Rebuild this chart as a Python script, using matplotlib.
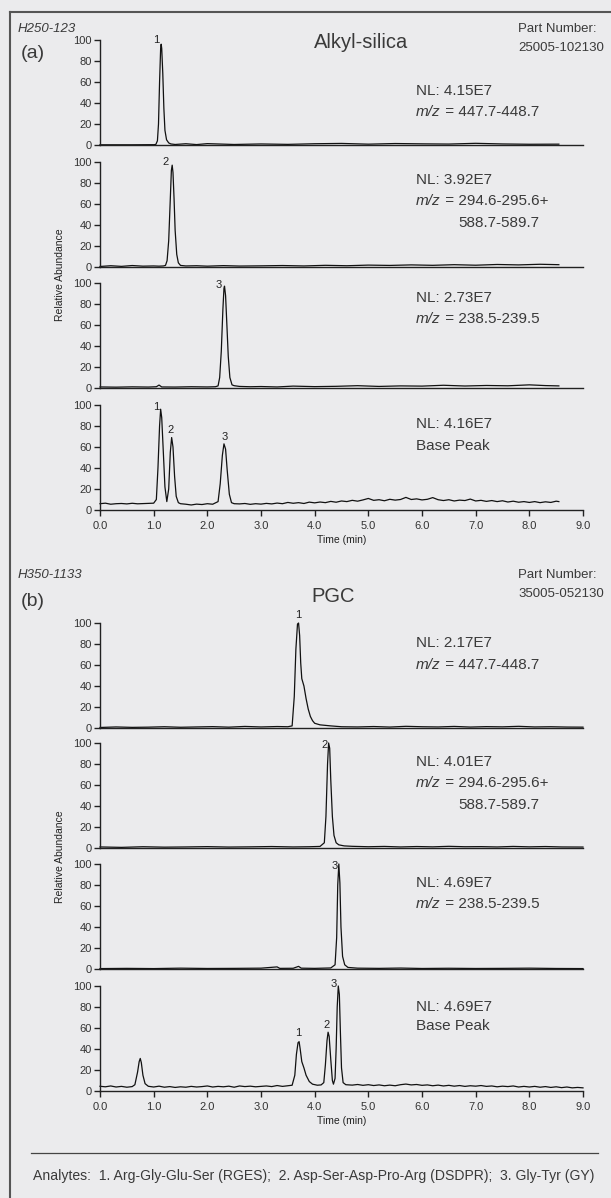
import numpy as np
import matplotlib
matplotlib.use("Agg")
import matplotlib.pyplot as plt
from matplotlib.lines import Line2D

plt.rcParams['font.family'] = ['Liberation Sans', 'DejaVu Sans']

W, H = 611, 1198
BG = '#ebebed'
TXT = '#3a3a3a'

# ---- data ----
a1_time = [0, 0.3, 0.6, 0.9, 1.0, 1.04, 1.07, 1.09, 1.11, 1.13, 1.14, 1.15, 1.17, 1.19, 1.21, 1.24, 1.28,
           1.32, 1.4, 1.6, 1.8, 2.0, 2.5, 3.0, 3.5, 4.0, 4.5, 5.0, 5.5, 6.0, 6.5, 7.0, 7.5, 8.0, 8.55]
a1_abund = [0.2, 0.2, 0.2, 0.3, 0.3, 0.5, 4, 20, 60, 92, 96, 92, 68, 35, 14, 5, 2,
            1, 0.5, 1.2, 0.4, 1.3, 0.5, 1.0, 0.6, 1.2, 1.5, 0.8, 1.4, 1.1, 0.9, 1.6, 1.0, 0.7, 0.8]

a2_time = [0, 0.2, 0.4, 0.6, 0.8, 1.0, 1.1, 1.18, 1.22, 1.25, 1.28, 1.31, 1.33, 1.345, 1.36, 1.38, 1.40,
           1.43, 1.46, 1.5, 1.6, 1.8, 2.0, 2.3, 2.6, 3.0, 3.4, 3.8, 4.2, 4.6, 5.0, 5.4, 5.8, 6.2, 6.6,
           7.0, 7.4, 7.8, 8.2, 8.55]
a2_abund = [0.5, 1.2, 0.6, 1.4, 0.8, 1.0, 0.8, 1.0, 1.5, 6, 25, 65, 92, 97, 90, 65, 35,
            12, 4, 1.5, 1.0, 1.2, 0.8, 1.3, 0.9, 1.1, 1.4, 1.0, 1.6, 1.2, 1.8, 1.5, 2.0, 1.6, 2.2,
            1.7, 2.4, 2.0, 2.6, 2.2]

a3_time = [0, 0.3, 0.6, 0.9, 1.05, 1.1, 1.15, 1.4, 1.7, 2.0, 2.15, 2.20, 2.23, 2.26, 2.29, 2.31, 2.32,
           2.34, 2.36, 2.39, 2.42, 2.46, 2.5, 2.6, 2.8, 3.0, 3.3, 3.6, 4.0, 4.4, 4.8, 5.2, 5.6, 6.0,
           6.4, 6.8, 7.2, 7.6, 8.0, 8.3, 8.55]
a3_abund = [1.0, 0.8, 1.1, 0.9, 1.2, 2.8, 1.0, 0.9, 1.2, 1.0, 1.2, 2, 10, 35, 75, 95, 97,
            88, 65, 30, 10, 3, 2.2, 1.5, 1.2, 1.4, 1.0, 1.8, 1.3, 1.6, 2.2, 1.5, 2.0, 1.8,
            2.6, 1.9, 2.4, 2.1, 3.0, 2.3, 2.0]

a4_time = [0.0, 0.1, 0.2, 0.3, 0.4, 0.5, 0.6, 0.7, 0.8, 0.9, 1.0, 1.05, 1.08, 1.11, 1.13, 1.15, 1.18,
           1.21, 1.245, 1.28, 1.31, 1.335, 1.36, 1.39, 1.42, 1.46, 1.5, 1.6, 1.7, 1.8, 1.9, 2.0, 2.1,
           2.20, 2.24, 2.28, 2.31, 2.34, 2.37, 2.41, 2.45, 2.5, 2.6, 2.7, 2.8, 2.9, 3.0, 3.1, 3.2,
           3.3, 3.4, 3.5, 3.6, 3.7, 3.8, 3.9, 4.0, 4.1, 4.2, 4.3, 4.4, 4.5, 4.6, 4.7, 4.8, 4.9, 5.0, 5.1,
           5.2, 5.3, 5.4, 5.5, 5.6, 5.7, 5.8, 5.9, 6.0, 6.1, 6.2, 6.3, 6.4, 6.5, 6.6, 6.7, 6.8, 6.9, 7.0,
           7.1, 7.2, 7.3, 7.4, 7.5, 7.6, 7.7, 7.8, 7.9, 8.0, 8.1, 8.2, 8.3, 8.4, 8.5, 8.55]
a4_abund = [6, 6.5, 5.5, 6, 6.2, 5.8, 6.4, 5.9, 6.1, 6.3, 6.5, 10, 40, 80, 96, 88, 55,
            22, 8, 20, 55, 69, 60, 32, 13, 7, 6, 5.5, 4.8, 5.6, 5.2, 6, 5.5,
            8, 25, 52, 63, 58, 38, 15, 7, 6, 5.8, 6.2, 5.4, 6.0, 5.6, 6.3, 5.8,
            6.6, 6.0, 7.2, 6.4, 7.0, 6.2, 7.5, 6.8, 7.6, 7.0, 8.2, 7.4, 8.6, 8.0, 9.2, 8.4, 9.6, 11, 9.2,
            9.8, 8.8, 10.2, 9.4, 10.0, 12, 10, 10.6, 9.6, 10.2, 11.8, 9.8, 9.0, 9.8, 8.6, 9.4, 9.0, 10.4, 8.6,
            9.2, 8.2, 9.0, 8.0, 8.8, 7.6, 8.4, 7.4, 8.0, 7.2, 8.0, 7.0, 7.8, 7.2, 8.4, 8.0]

b1_time = [0, 0.3, 0.6, 0.9, 1.2, 1.5, 1.8, 2.1, 2.4, 2.7, 3.0, 3.3, 3.5, 3.58, 3.62, 3.65, 3.68, 3.70,
           3.72, 3.74, 3.76, 3.80, 3.84, 3.88, 3.92, 3.96, 4.0, 4.1, 4.2, 4.3, 4.5, 4.8, 5.1, 5.4, 5.7,
           6.0, 6.3, 6.6, 6.9, 7.2, 7.5, 7.8, 8.1, 8.4, 8.7, 9.0]
b1_abund = [0.5, 1.0, 0.6, 0.8, 1.2, 0.7, 1.0, 1.3, 0.8, 1.5, 1.0, 1.4, 1.2, 2, 30, 75, 99, 100,
            88, 62, 47, 40, 28, 18, 11, 7, 4.5, 3, 2.5, 2.0, 1.2, 1.0, 1.4, 0.9, 1.6,
            1.2, 1.0, 1.5, 0.9, 1.3, 1.1, 1.6, 1.0, 1.2, 0.9, 0.8]

b2_time = [0, 0.4, 0.8, 1.2, 1.6, 2.0, 2.4, 2.8, 3.2, 3.6, 3.9, 4.1, 4.18, 4.21, 4.24, 4.26, 4.28, 4.30,
           4.33, 4.36, 4.40, 4.45, 4.55, 4.7, 5.0, 5.3, 5.6, 5.9, 6.2, 6.5, 6.8, 7.1, 7.4, 7.7, 8.0, 8.3,
           8.6, 9.0]
b2_abund = [1.0, 0.6, 1.2, 0.8, 1.0, 1.3, 0.9, 1.1, 1.4, 1.0, 1.2, 1.5, 5, 30, 80, 100, 95, 65,
            30, 12, 5, 3, 2.0, 1.6, 1.2, 1.5, 1.0, 1.4, 1.1, 1.6, 1.2, 1.3, 1.0, 1.5, 1.1, 1.4,
            1.0, 0.9]

b3_time = [0, 0.5, 1.0, 1.5, 2.0, 2.5, 3.0, 3.3, 3.35, 3.6, 3.7, 3.75, 4.0, 4.3, 4.38, 4.41, 4.43, 4.45,
           4.47, 4.49, 4.52, 4.56, 4.62, 4.8, 5.2, 5.6, 6.0, 6.5, 7.0, 7.5, 8.0, 8.5, 9.0]
b3_abund = [0.4, 0.6, 0.4, 0.8, 0.5, 0.6, 0.8, 2, 0.6, 0.7, 2.5, 0.8, 0.6, 1, 4, 30, 80, 100,
            82, 40, 12, 4, 1.5, 0.8, 0.6, 0.9, 0.5, 0.7, 0.5, 0.6, 0.8, 0.5, 0.4]

b4_time = [0.0, 0.1, 0.2, 0.3, 0.4, 0.5, 0.6, 0.65, 0.70, 0.73, 0.75, 0.77, 0.80, 0.84, 0.9, 1.0, 1.1,
           1.2, 1.3, 1.4, 1.5, 1.6, 1.7, 1.8, 1.9, 2.0, 2.1, 2.2, 2.3, 2.4, 2.5, 2.6, 2.7, 2.8, 2.9, 3.0,
           3.1, 3.2, 3.3, 3.4, 3.5, 3.58, 3.63, 3.66, 3.69, 3.71, 3.73, 3.76, 3.80, 3.84, 3.90, 3.96, 4.05,
           4.12, 4.17, 4.20, 4.23, 4.25, 4.27, 4.30, 4.33, 4.35, 4.38, 4.40, 4.42, 4.44, 4.46, 4.48, 4.50,
           4.53, 4.58, 4.7, 4.8, 4.9, 5.0, 5.1, 5.2, 5.3, 5.4, 5.5, 5.6, 5.7, 5.8, 5.9, 6.0, 6.1, 6.2,
           6.3, 6.4, 6.5, 6.6, 6.7, 6.8, 6.9, 7.0, 7.1, 7.2, 7.3, 7.4, 7.5, 7.6, 7.7, 7.8, 7.9, 8.0, 8.1,
           8.2, 8.3, 8.4, 8.5, 8.6, 8.7, 8.8, 8.9, 9.0]
b4_abund = [4.5, 4.0, 4.8, 3.8, 4.4, 3.6, 4.2, 6, 18, 28, 31, 27, 15, 7, 4.5, 3.8, 4.6,
            3.6, 4.2, 3.4, 4.0, 3.6, 4.4, 3.8, 4.2, 4.8, 3.8, 4.4, 4.0, 4.6, 3.6, 4.8, 4.2, 4.6, 4.0, 4.4,
            4.8, 4.2, 5.2, 4.4, 5.0, 5.5, 15, 35, 46, 47, 40, 28, 22, 15, 9, 6.5, 5.5,
            5.8, 8, 25, 48, 56, 52, 30, 10, 6.5, 12, 40, 80, 100, 92, 55, 22,
            8, 6, 5.6, 6.2, 5.4, 6.0, 5.2, 5.8, 5.0, 5.6, 5.0, 6.0, 6.6, 5.8, 6.2, 5.4, 5.8, 5.0,
            5.6, 4.8, 5.4, 4.6, 5.2, 4.4, 5.0, 4.6, 5.2, 4.4, 4.8, 4.0, 4.6, 4.2, 4.8, 3.8, 4.4, 3.8, 4.4,
            3.6, 4.2, 3.4, 4.0, 3.2, 3.8, 3.0, 3.4, 3.0]

traces_a = [(a1_time, a1_abund), (a2_time, a2_abund), (a3_time, a3_abund), (a4_time, a4_abund)]
traces_b = [(b1_time, b1_abund), (b2_time, b2_abund), (b3_time, b3_abund), (b4_time, b4_abund)]

nl_a = ['NL: 4.15E7', 'NL: 3.92E7', 'NL: 2.73E7', 'NL: 4.16E7']
nl_b = ['NL: 2.17E7', 'NL: 4.01E7', 'NL: 4.69E7', 'NL: 4.69E7']
mz_ranges = ['447.7-448.7', '294.6-295.6+', '238.5-239.5', None]
mz_extra = [None, '588.7-589.7', None, None]

# peak labels: (label, time, abundance)
peaks_a = [[('1', 1.04, 100)], [('2', 1.22, 100)], [('3', 2.21, 98)],
           [('1', 1.04, 98), ('2', 1.32, 76), ('3', 2.33, 70)]]
peaks_b = [[('1', 3.69, 108)], [('2', 4.18, 98)], [('3', 4.37, 98)],
           [('1', 3.69, 55), ('2', 4.22, 63), ('3', 4.36, 102)]]

x_ticks = np.arange(0, 10, 1)
x_labels = ['%.1f' % v for v in x_ticks]
y_ticks = [0, 20, 40, 60, 80, 100]

fig = plt.figure(figsize=(W / 100, H / 100), dpi=100, facecolor=BG)

FS = 11  # NL / m/z annotation size


def fx(px):
    return px / W


def fy(py):
    return 1 - py / H


def make_axes(top, bottom, bottom_axis):
    ax = fig.add_axes([fx(100), fy(bottom), 483 / W, (bottom - top) / H])
    ax.set_facecolor('none')
    for s in ['top', 'right']:
        ax.spines[s].set_visible(False)
    for s in ['left', 'bottom']:
        ax.spines[s].set_color('#222222')
        ax.spines[s].set_linewidth(1.0)
    ax.set_xlim(0, 9)
    ax.set_ylim(0, 100)
    ax.set_yticks(y_ticks)
    ax.tick_params(axis='y', direction='out', length=4, width=1, colors='#222222',
                   labelsize=8, labelcolor='#333333', pad=2)
    if bottom_axis:
        ax.set_xticks(x_ticks)
        ax.set_xticklabels(x_labels)
        ax.tick_params(axis='x', direction='out', length=4, width=1, colors='#222222',
                       labelsize=8, labelcolor='#333333', pad=4)
    else:
        ax.set_xticks([])
    return ax


def draw_panel(tops, traces, nls, peaks, nl_y):
    axes = []
    for i, (top, (t, v)) in enumerate(zip(tops, traces)):
        ax = make_axes(top, top + 105, i == 3)
        ax.plot(t, v, color='#111111', lw=0.9, clip_on=False)
        ny, my, ey = nl_y[i]
        ax.text(5.89, ny, nls[i], fontsize=FS, color=TXT, va='center', ha='left')
        if i == 3:
            ax.text(5.89, my, 'Base Peak', fontsize=FS, color=TXT, va='center', ha='left')
        else:
            m = ax.text(5.89, my, 'm/z', fontsize=FS, color=TXT, va='center', ha='left',
                        style='italic')
            ax.annotate(' = ' + mz_ranges[i], xy=(1, 0), xycoords=m, fontsize=FS,
                        color=TXT, va='bottom', ha='left')
            if mz_extra[i]:
                ax.text(6.67, ey, mz_extra[i], fontsize=FS, color=TXT, va='center', ha='left')
        for lab, px, py in peaks[i]:
            ax.text(px, py, lab, fontsize=8, color='#222222', ha='center', va='center')
        axes.append(ax)
    axes[3].set_xlabel('Time (min)', fontsize=7.5, color='#222222', labelpad=3)
    return axes


tops_a = [40, 162, 283, 405]
tops_b = [623, 743, 864, 986]
nl_y_a = [(51, 31, None), (83, 63, 42), (86, 66, None), (82, 61, None)]
nl_y_b = [(81, 60, None), (82, 62, 41), (82, 62, None), (80, 62, None)]

draw_panel(tops_a, traces_a, nl_a, peaks_a, nl_y_a)
draw_panel(tops_b, traces_b, nl_b, peaks_b, nl_y_b)

# y-axis titles
fig.text(fx(60), fy(275), 'Relative Abundance', rotation=90, fontsize=7.5, color='#222222',
         ha='center', va='center')
fig.text(fx(60), fy(857), 'Relative Abundance', rotation=90, fontsize=7.5, color='#222222',
         ha='center', va='center')

# headers
fig.text(fx(18), fy(29), 'H250-123', style='italic', fontsize=9.5, color=TXT, va='center')
fig.text(fx(21), fy(53), '(a)', fontsize=14, color=TXT, va='center')
fig.text(fx(361), fy(43), 'Alkyl-silica', fontsize=14.5, color=TXT, va='center', ha='center')
fig.text(fx(518), fy(29), 'Part Number:', fontsize=9.5, color=TXT, va='center')
fig.text(fx(518), fy(48), '25005-102130', fontsize=9.5, color=TXT, va='center')

fig.text(fx(18), fy(575), 'H350-1133', style='italic', fontsize=9.5, color=TXT, va='center')
fig.text(fx(21), fy(602), '(b)', fontsize=14, color=TXT, va='center')
fig.text(fx(333), fy(597), 'PGC', fontsize=14.5, color=TXT, va='center', ha='center')
fig.text(fx(518), fy(575), 'Part Number:', fontsize=9.5, color=TXT, va='center')
fig.text(fx(518), fy(594), '35005-052130', fontsize=9.5, color=TXT, va='center')

# frame and separator
fig.add_artist(Line2D([fx(10), fx(10)], [fy(12), fy(1198)], color='#555555', lw=1.5))
fig.add_artist(Line2D([fx(10), fx(611)], [fy(12), fy(12)], color='#555555', lw=1.5))
fig.add_artist(Line2D([fx(31), fx(598)], [fy(1153), fy(1153)], color='#444444', lw=0.9))

fig.text(fx(314), fy(1176), 'Analytes:  1. Arg-Gly-Glu-Ser (RGES);  2. Asp-Ser-Asp-Pro-Arg (DSDPR);  '
         '3. Gly-Tyr (GY)', fontsize=10.1, color=TXT, va='center', ha='center')

fig.savefig('out.png', dpi=100, facecolor=BG)
